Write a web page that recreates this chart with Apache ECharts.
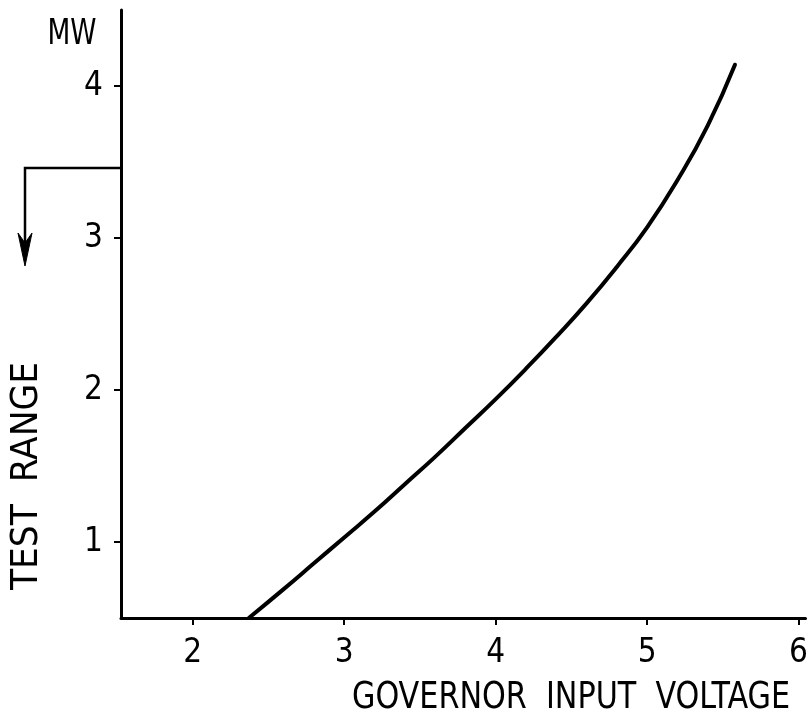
<!DOCTYPE html>
<html>
<head>
<meta charset="utf-8">
<script src="https://cdn.jsdelivr.net/npm/echarts@6/dist/echarts.min.js"></script>
<style>
  html, body { margin: 0; padding: 0; background: #fff; }
  #chart { width: 811px; height: 722px; }
</style>
</head>
<body>
<div id="chart"></div>
<script>
// ---- data ----
const voltage = [2.37, 2.60, 2.80, 3.00, 3.20, 3.40, 3.60, 3.80, 4.00, 4.20, 4.40, 4.60, 4.80, 5.00, 5.20, 5.40, 5.58];
const power   = [0.50, 0.69, 0.86, 1.03, 1.20, 1.38, 1.56, 1.75, 1.94, 2.14, 2.35, 2.57, 2.81, 3.07, 3.38, 3.74, 4.14];
const xTicks = [2, 3, 4, 5, 6];
const yTicks = [1, 2, 3, 4];
const testRangeLevel = 3.46;
const xTitle = 'GOVERNOR  INPUT  VOLTAGE';
const yTitle = 'TEST  RANGE';
const yUnit = 'MW';

const FONT = '"DejaVu Sans Condensed", "DejaVu Sans", sans-serif';

function textWidth(str, size) {
  const c = document.createElement('canvas').getContext('2d');
  c.font = size + 'px ' + FONT;
  return c.measureText(str).width;
}

const chart = echarts.init(document.getElementById('chart'), null, { renderer: 'canvas' });

const axisCommon = {
  type: 'value',
  splitLine: { show: false },
  axisLine: { show: true, onZero: false, lineStyle: { color: '#000', width: 3 } },
  axisTick: { show: true, inside: false, length: 7, lineStyle: { color: '#000', width: 2 } },
  axisLabel: { color: '#000', fontFamily: FONT, fontSize: 33 }
};

chart.setOption({
  animation: false,
  backgroundColor: '#fff',
  grid: { left: 121, right: 3, top: 10, bottom: 104, containLabel: false },
  xAxis: Object.assign({}, axisCommon, {
    min: 1.526, max: 6.046,
    axisTick: Object.assign({}, axisCommon.axisTick, { customValues: xTicks }),
    axisLabel: Object.assign({}, axisCommon.axisLabel, { customValues: xTicks, margin: 19 })
  }),
  yAxis: Object.assign({}, axisCommon, {
    min: 0.5, max: 4.5,
    axisTick: Object.assign({}, axisCommon.axisTick, { customValues: yTicks }),
    axisLabel: Object.assign({}, axisCommon.axisLabel, { customValues: yTicks, margin: 18 })
  }),
  series: [{
    type: 'line',
    data: voltage.map((v, i) => [v, power[i]]),
    showSymbol: false,
    smooth: 0.5,
    clip: false,
    lineStyle: { color: '#000', width: 4, cap: 'round' }
  }]
});

// annotations
const yLevel = chart.convertToPixel({ yAxisIndex: 0 }, testRangeLevel);
const xAxisPx = chart.convertToPixel({ xAxisIndex: 0 }, 1.526);

const xTitleSize = 37, xTitleW = 438;
const yTitleSize = 37, yTitleW = 228;
const unitSize = 35, unitW = 49;

chart.setOption({
  graphic: [
    {
      type: 'polyline',
      shape: { points: [[xAxisPx, yLevel], [25, yLevel], [25, 250]] },
      style: { stroke: '#000', lineWidth: 2.5, fill: null }
    },
    {
      type: 'polygon',
      shape: { points: [[18, 233], [25, 266], [32, 233], [25, 243]] },
      style: { fill: '#000', stroke: '#000', lineWidth: 1 }
    },
    {
      type: 'text',
      x: 571, y: 698,
      scaleX: xTitleW / textWidth(xTitle, xTitleSize),
      style: {
        text: xTitle, fontFamily: FONT, fontSize: xTitleSize, fill: '#000',
        align: 'center', verticalAlign: 'middle'
      }
    },
    {
      type: 'text',
      x: 27, y: 476,
      rotation: Math.PI / 2,
      scaleX: yTitleW / textWidth(yTitle, yTitleSize),
      style: {
        text: yTitle, fontFamily: FONT, fontSize: yTitleSize, fill: '#000',
        align: 'center', verticalAlign: 'middle'
      }
    },
    {
      type: 'text',
      x: 72, y: 35,
      scaleX: unitW / textWidth(yUnit, unitSize),
      style: {
        text: yUnit, fontFamily: FONT, fontSize: unitSize, fill: '#000',
        align: 'center', verticalAlign: 'middle'
      }
    }
  ]
});
</script>
</body>
</html>
